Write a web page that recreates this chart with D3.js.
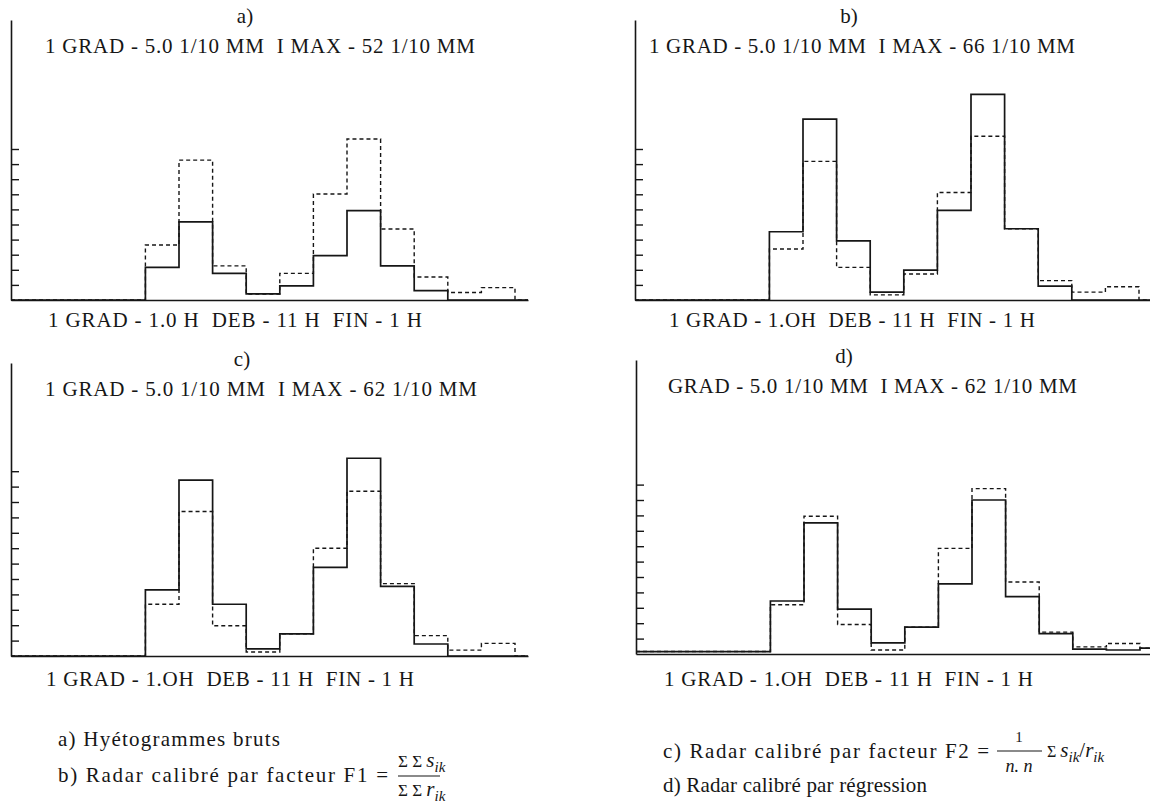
<!DOCTYPE html>
<html>
<head>
<meta charset="utf-8">
<script src="https://cdn.jsdelivr.net/npm/d3@7"></script>
<style>
  body { margin: 0; background: #fff; }
  text { font-family: "Liberation Serif", "Times New Roman", serif; fill: #161616; white-space: pre; }
</style>
</head>
<body>
<script>
// hourly bins, 1 GRAD = 1.0 H
const bins = [0, 1, 2, 3, 4, 5, 6, 7, 8, 9, 10, 11, 12, 13, 14, 15];

// rain depth per bin, in 1/10 mm
const aSolid  = [0, 0, 0, 0, 10.8, 25.9, 8.8, 2.0, 4.7, 14.7, 29.6, 11.3, 3.1, 0, 0, 0];
const aDashed = [0, 0, 0, 0, 18.2, 46.3, 11.3, 2.0, 8.8, 35.1, 53.3, 23.5, 7.6, 2.5, 4.1, 0];
const bSolid  = [0, 0, 0, 0, 22.6, 59.9, 19.6, 2.6, 9.9, 29.7, 68.1, 23.6, 4.6, 0, 0, 0];
const bDashed = [0, 0, 0, 0, 16.9, 45.9, 10.8, 1.7, 8.6, 35.6, 54.2, 23.6, 6.4, 2.6, 4.4, 0];
const cSolid  = [0, 0, 0, 0, 21.5, 57.1, 16.8, 2.3, 7.2, 28.8, 64.2, 22.6, 3.9, 0, 0, 0];
const cDashed = [0, 0, 0, 0, 16.8, 46.9, 9.8, 1.3, 7.2, 35.0, 53.5, 23.5, 6.6, 1.9, 4.1, 0];
const dSolid  = [0.8, 0.8, 0.8, 0.8, 17.2, 42.6, 14.6, 3.6, 8.7, 22.8, 50.0, 18.6, 6.6, 1.6, 1.3, 1.9];
const dDashed = [0.8, 0.8, 0.8, 0.8, 16.0, 44.7, 9.6, 1.3, 8.7, 34.3, 53.7, 23.4, 7.1, 2.3, 3.4, 1.9];

// graduation ticks (1 GRAD = 5.0 1/10 mm)
const gradStep = 5;
const gradCounts = [10, 10, 12, 11];

const panelLetters = ["a)", "b)", "c)", "d)"];
const topLabels = [
  "1 GRAD - 5.0 1/10 MM  I MAX - 52 1/10 MM",
  "1 GRAD - 5.0 1/10 MM  I MAX - 66 1/10 MM",
  "1 GRAD - 5.0 1/10 MM  I MAX - 62 1/10 MM",
  "GRAD - 5.0 1/10 MM  I MAX - 62 1/10 MM"
];
const bottomLabels = [
  "1 GRAD - 1.0 H  DEB - 11 H  FIN - 1 H",
  "1 GRAD - 1.OH  DEB - 11 H  FIN - 1 H",
  "1 GRAD - 1.OH  DEB - 11 H  FIN - 1 H",
  "1 GRAD - 1.OH  DEB - 11 H  FIN - 1 H"
];

const W = 1150, H = 807;
const BIN_W = 33.6;
const INK = "#161616";

const svg = d3.select("body").append("svg")
  .attr("width", W)
  .attr("height", H);

// layout of the four panels
const panels = [
  { x0: 11,  top: 20,  base: 300, xEnd: 528,  tick: 15.1, solid: aSolid, dashed: aDashed,
    letterX: 245, titleX: 45,  titleW: 430, botX: 48,  botW: 374, botY: 327 },
  { x0: 635, top: 20,  base: 300, xEnd: 1150, tick: 15.1, solid: bSolid, dashed: bDashed,
    letterX: 849, titleX: 649, titleW: 426, botX: 669, botW: 366, botY: 327 },
  { x0: 11,  top: 363, base: 656, xEnd: 528,  tick: 15.4, solid: cSolid, dashed: cDashed,
    letterX: 242, titleX: 45,  titleW: 432, botX: 46,  botW: 368, botY: 686 },
  { x0: 636, top: 360, base: 654, xEnd: 1150, tick: 15.4, solid: dSolid, dashed: dDashed,
    letterX: 844, titleX: 668, titleW: 409, botX: 664, botW: 369, botY: 686 }
];

panels.forEach((p, i) => drawPanel(p, i));

function drawPanel(p, i) {
  const g = svg.append("g");
  const perUnit = p.tick / gradStep;

  const x = d3.scaleLinear()
    .domain([0, (p.xEnd - p.x0) / BIN_W])
    .range([p.x0, p.xEnd]);
  const y = d3.scaleLinear()
    .domain([0, (p.base - p.top) / perUnit])
    .range([p.base, p.top]);

  // x axis: plain line
  const xAxis = g.append("g")
    .attr("transform", `translate(0, ${p.base})`)
    .call(d3.axisBottom(x).tickValues([]).tickSizeOuter(0));
  xAxis.select(".domain").attr("stroke", INK).attr("stroke-width", 1.6);

  // y axis with graduation ticks pointing inward
  const yAxis = g.append("g")
    .attr("transform", `translate(${p.x0}, 0)`)
    .call(d3.axisRight(y)
      .tickValues(d3.range(1, gradCounts[i] + 1).map(k => k * gradStep))
      .tickSize(8)
      .tickSizeOuter(0)
      .tickFormat(""));
  yAxis.select(".domain").attr("stroke", INK).attr("stroke-width", 1.6);
  yAxis.selectAll(".tick line").attr("stroke", INK).attr("stroke-width", 1.4);

  const step = d3.line()
    .x(d => x(d[0]))
    .y(d => y(d[1]))
    .curve(d3.curveStepAfter);

  const toPoints = vals => {
    const pts = bins.map(b => [b, vals[b]]);
    pts.push([Math.min(bins.length, x.domain()[1]), vals[vals.length - 1]]);
    return pts;
  };

  g.append("path")
    .attr("d", step(toPoints(p.dashed)))
    .attr("fill", "none")
    .attr("stroke", INK)
    .attr("stroke-width", 1.4)
    .attr("stroke-dasharray", "4,3");

  g.append("path")
    .attr("d", step(toPoints(p.solid)))
    .attr("fill", "none")
    .attr("stroke", INK)
    .attr("stroke-width", 1.7);

  // labels
  g.append("text")
    .attr("x", p.letterX)
    .attr("y", p.top + 3)
    .attr("text-anchor", "middle")
    .style("font-size", "21px")
    .text(panelLetters[i]);

  g.append("text")
    .attr("x", p.titleX)
    .attr("y", p.top + 33)
    .attr("textLength", p.titleW)
    .attr("lengthAdjust", "spacing")
    .style("font-size", "21px")
    .text(topLabels[i]);

  g.append("text")
    .attr("x", p.botX)
    .attr("y", p.botY)
    .attr("textLength", p.botW)
    .attr("lengthAdjust", "spacing")
    .style("font-size", "21px")
    .text(bottomLabels[i]);
}

// captions
const cap = svg.append("g").style("font-size", "21px");

cap.append("text")
  .attr("x", 58).attr("y", 746)
  .attr("textLength", 222).attr("lengthAdjust", "spacing")
  .text("a) Hyétogrammes bruts");

cap.append("text")
  .attr("x", 58).attr("y", 782)
  .attr("textLength", 330).attr("lengthAdjust", "spacing")
  .text("b) Radar calibré par facteur F1 =");

// F1 fraction
const num1 = cap.append("text").attr("x", 398).attr("y", 767);
num1.append("tspan").style("font-size", "17px").text("Σ Σ ");
num1.append("tspan").style("font-style", "italic").text("s");
num1.append("tspan").style("font-style", "italic").style("font-size", "15px").attr("dy", 5).text("ik");
cap.append("line")
  .attr("x1", 398).attr("x2", 440).attr("y1", 776).attr("y2", 776)
  .attr("stroke", INK).attr("stroke-width", 1.2);
const den1 = cap.append("text").attr("x", 398).attr("y", 796);
den1.append("tspan").style("font-size", "17px").text("Σ Σ ");
den1.append("tspan").style("font-style", "italic").text("r");
den1.append("tspan").style("font-style", "italic").style("font-size", "15px").attr("dy", 5).text("ik");

cap.append("text")
  .attr("x", 663).attr("y", 758)
  .attr("textLength", 326).attr("lengthAdjust", "spacing")
  .text("c) Radar calibré par facteur F2 =");

// F2 fraction
cap.append("text")
  .attr("x", 1019).attr("y", 742)
  .attr("text-anchor", "middle")
  .style("font-size", "15px")
  .text("1");
cap.append("line")
  .attr("x1", 997).attr("x2", 1042).attr("y1", 751).attr("y2", 751)
  .attr("stroke", INK).attr("stroke-width", 1.2);
cap.append("text")
  .attr("x", 1019).attr("y", 772)
  .attr("text-anchor", "middle")
  .style("font-style", "italic")
  .style("font-size", "18px")
  .text("n. n");
const sum2 = cap.append("text").attr("x", 1047).attr("y", 757);
sum2.append("tspan").style("font-size", "16px").text("Σ ");
sum2.append("tspan").style("font-style", "italic").text("s");
sum2.append("tspan").style("font-style", "italic").style("font-size", "15px").attr("dy", 5).text("ik");
sum2.append("tspan").attr("dy", -5).text("/");
sum2.append("tspan").style("font-style", "italic").text("r");
sum2.append("tspan").style("font-style", "italic").style("font-size", "15px").attr("dy", 5).text("ik");

cap.append("text")
  .attr("x", 663).attr("y", 792)
  .attr("textLength", 264).attr("lengthAdjust", "spacing")
  .text("d) Radar calibré par régression");
</script>
</body>
</html>
